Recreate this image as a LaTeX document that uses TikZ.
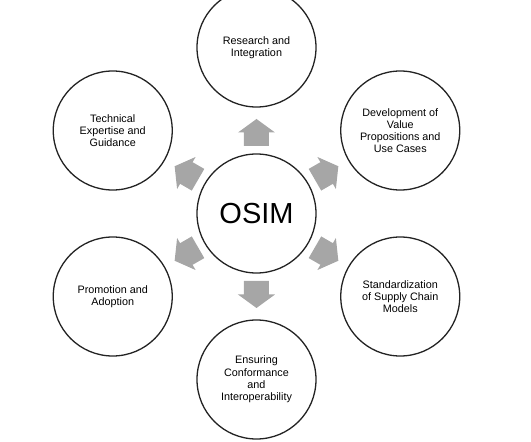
\documentclass[tikz,border=0pt]{standalone}
\usepackage{fontspec}
\setmainfont{Liberation Sans}
\definecolor{arrowgray}{RGB}{166,166,166}
\definecolor{ringline}{RGB}{35,35,35}

\begin{document}
\begin{tikzpicture}[x=1pt, y=1pt,
  bubble/.style={circle, draw=ringline, line width=1.3pt, minimum size=119pt,
    inner sep=0pt, align=center, font=\fontsize{10.8}{12.2}\selectfont},
  blockarrow/.style={fill=arrowgray}]

  \useasboundingbox (-256.5,-228.5) rectangle (274.5,213.5);

  % centre
  \node[bubble, font=\fontsize{29}{34}\selectfont] (osim) at (0,0) {OSIM};

  % ring of six activities, 166pt from the centre
  \node[bubble] (research)  at (90:166)   {Research and\\Integration};
  \node[bubble] (valueprop) at (30:166)   {Development of\\Value\\Propositions and\\Use Cases};
  \node[bubble] (standard)  at (-30:166)  {Standardization\\of Supply Chain\\Models};
  \node[bubble] (conform)   at (-90:166)  {Ensuring\\Conformance\\and\\Interoperability};
  \node[bubble] (promo)     at (-150:166) {Promotion and\\Adoption};
  \node[bubble] (expertise) at (150:166)  {Technical\\Expertise and\\Guidance};

  % grey block arrows pointing outwards
  \foreach \ang in {90,30,-30,-90,-150,150}
    \fill[blockarrow, shift={(\ang:81)}, rotate=\ang]
      (-13.5,-12.5) -- (0,-12.5) -- (0,-18.5) -- (13.5,0)
      -- (0,18.5) -- (0,12.5) -- (-13.5,12.5) -- cycle;

\end{tikzpicture}
\end{document}
